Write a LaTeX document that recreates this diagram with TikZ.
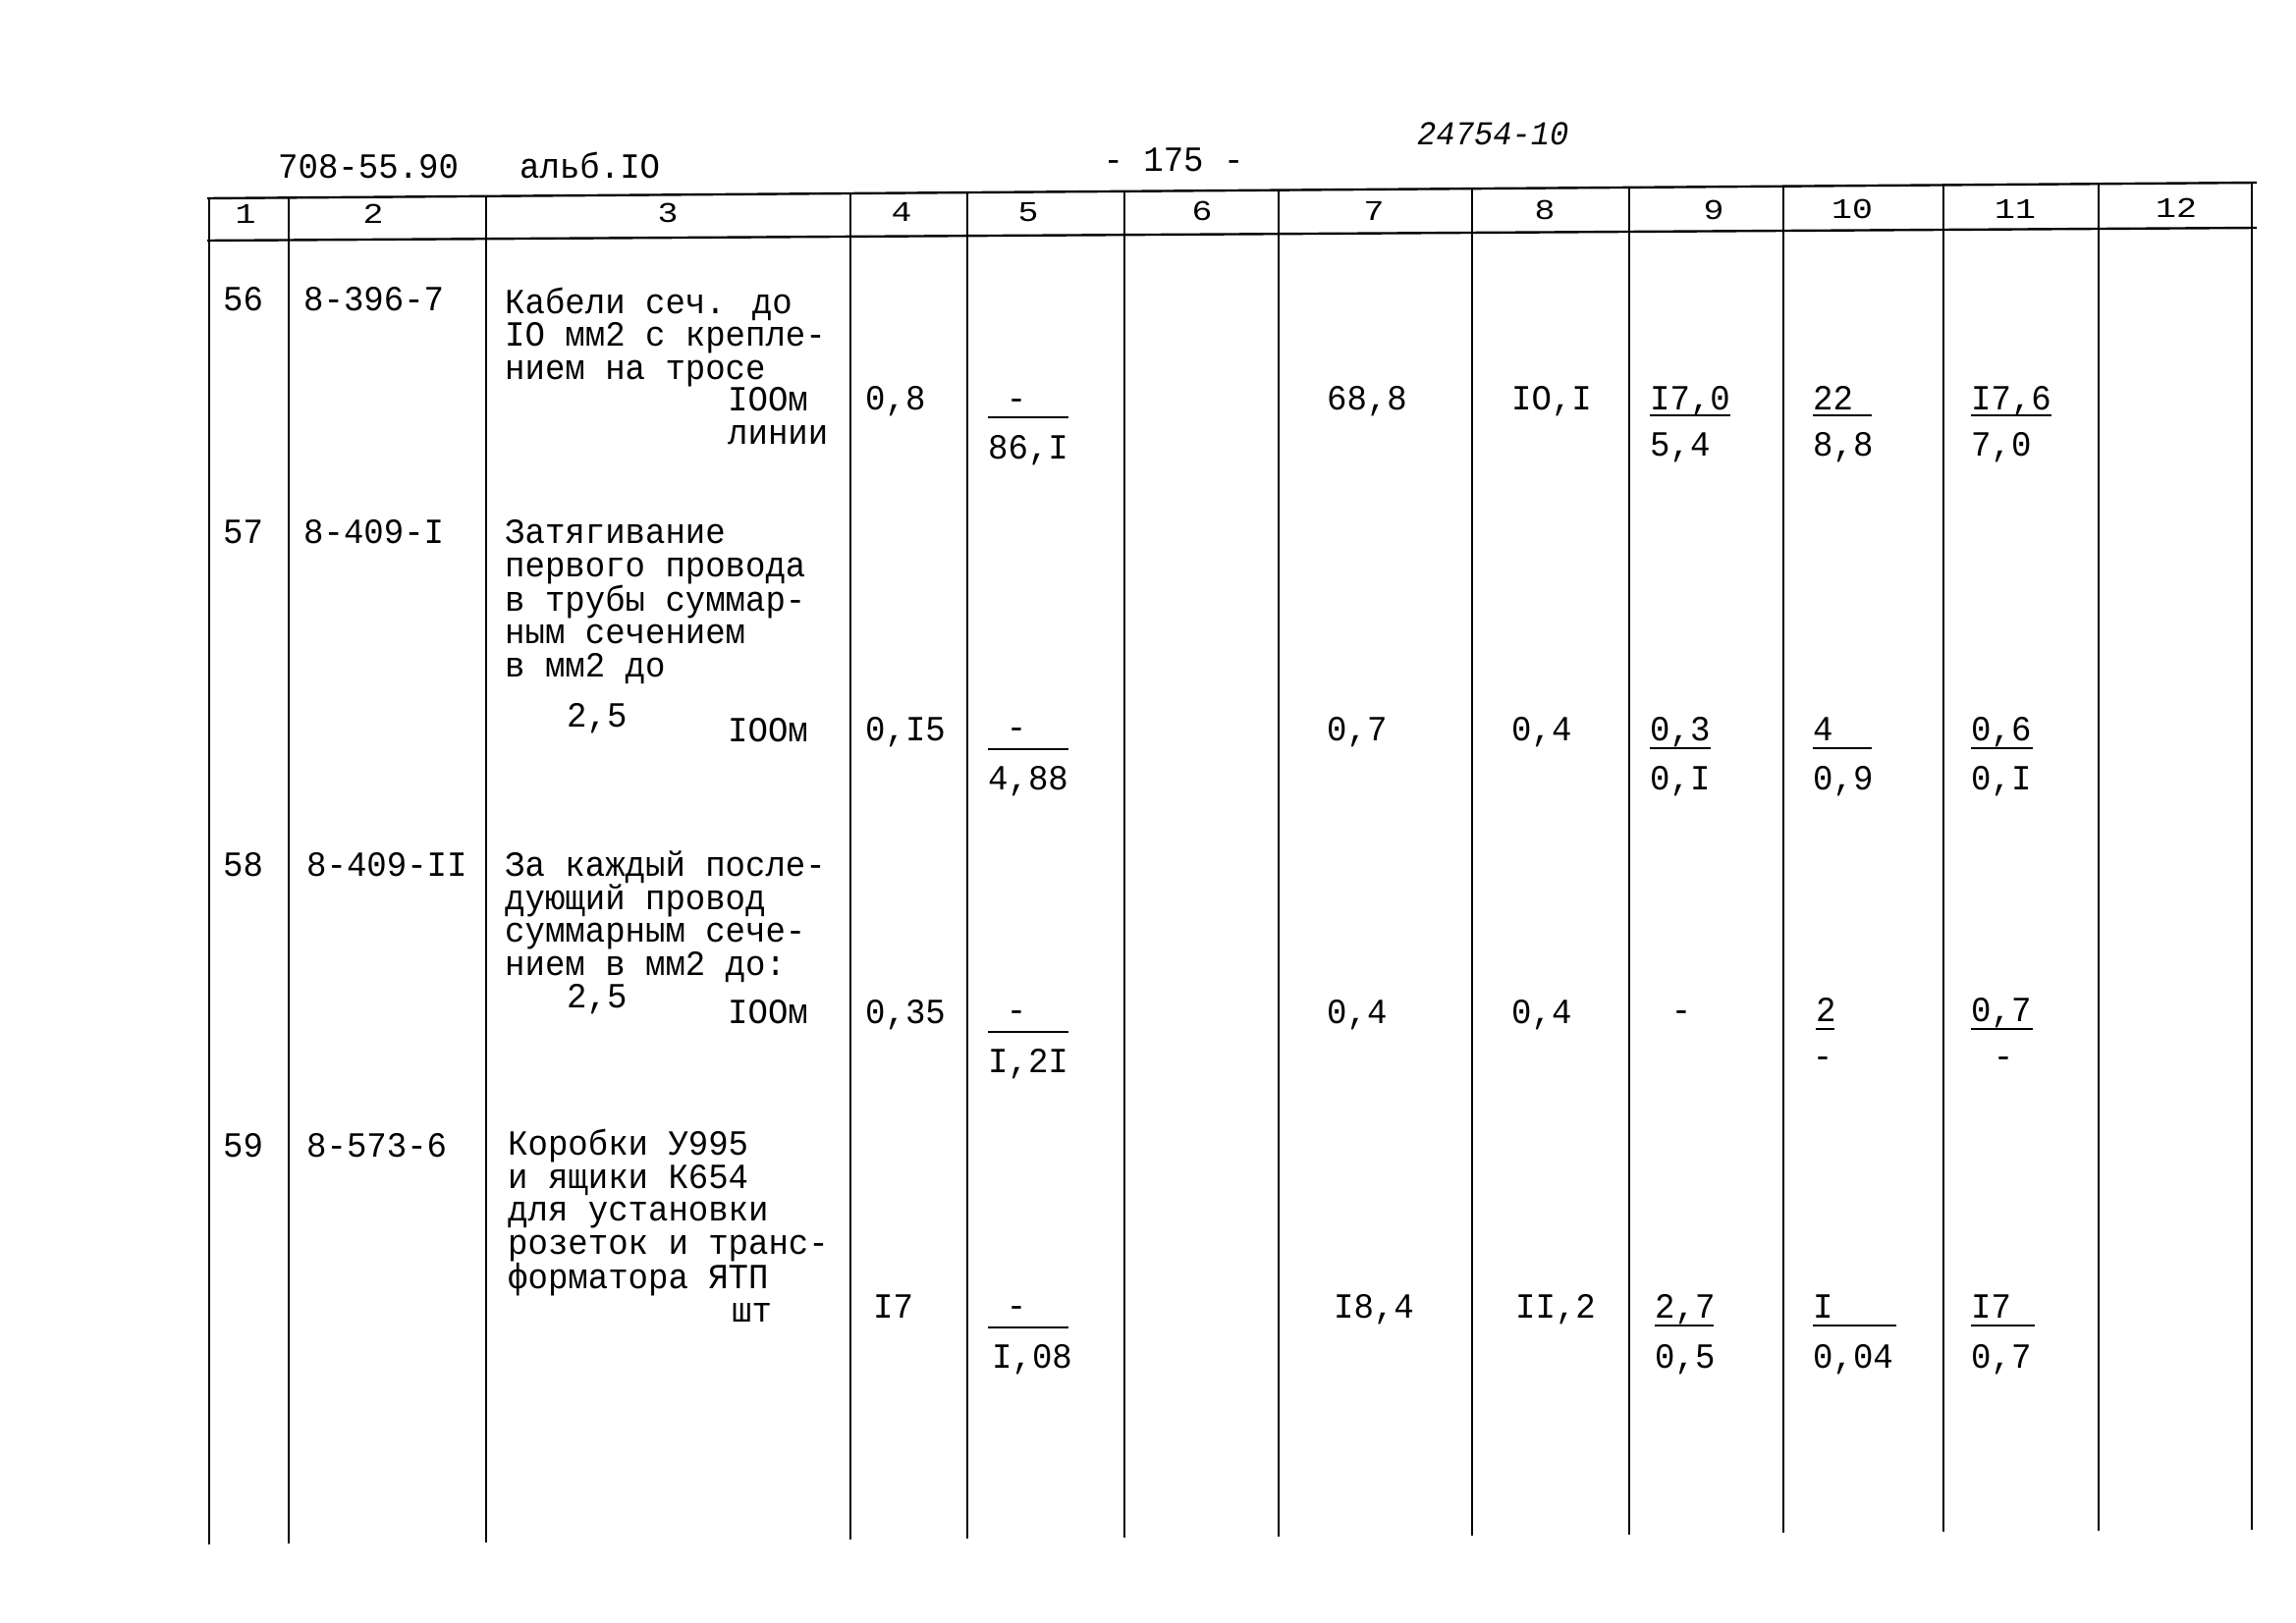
\documentclass[tikz,border=0pt]{standalone}
\usepackage{fontspec}
\newfontfamily\machfont[FakeStretch=0.945]{Liberation Mono}
\newfontfamily\headfont[FakeStretch=1.2]{Liberation Mono}
\usetikzlibrary{positioning}
\tikzset{
	rule/.style={line width=2.4pt, black},
	%
	frac/.style={line width=2pt, black},
	%
	txt/.style={
		anchor=base west, inner sep=0pt,
		font=\machfont\fontsize{36}{33.5}\selectfont
	},
	%
	desc/.style={txt, align=left},
	%
	mid/.style={txt, anchor=base},
	%
	hdr/.style={
		anchor=base, inner sep=0pt,
		font=\headfont\fontsize{29}{29}\selectfont
	}
}

\begin{document}
\begin{tikzpicture}[x=1pt,y=-1pt]
\useasboundingbox (0,0) rectangle (2338,1653);

%title line
\node (doc) [txt] at (283,182) {708-55.90};
\node (alb) [txt] at (529,182) {альб.IO};
\node (page) [mid] at (1195,175) {- 175 -};
\node (inv) [txt, font=\machfont\itshape\fontsize{34}{34}\selectfont] at (1443,148) {24754-10};

%frame
\draw[rule] (211,202) -- (2298,186);
\draw[rule] (211,245) -- (2298,232);
\draw[rule] (213,202) -- (213,1573);
\draw[rule] (294,201) -- (294,1572);
\draw[rule] (495,200) -- (495,1571);
\draw[rule] (866,197) -- (866,1568);
\draw[rule] (985,196) -- (985,1567);
\draw[rule] (1145,195) -- (1145,1566);
\draw[rule] (1302,194) -- (1302,1565);
\draw[rule] (1499,192) -- (1499,1564);
\draw[rule] (1659,191) -- (1659,1563);
\draw[rule] (1816,190) -- (1816,1561);
\draw[rule] (1979,189) -- (1979,1560);
\draw[rule] (2137,187) -- (2137,1559);
\draw[rule] (2293,186) -- (2293,1558);

%column numbers
\node (h1) [hdr] at (250,228) {1};
\node (h2) [hdr] at (380,228) {2};
\node (h3) [hdr] at (680,227) {3};
\node (h4) [hdr] at (918,226) {4};
\node (h5) [hdr] at (1047,226) {5};
\node (h6) [hdr] at (1224,225) {6};
\node (h7) [hdr] at (1399,225) {7};
\node (h8) [hdr] at (1573,224) {8};
\node (h9) [hdr] at (1745,224) {9};
\node (h10) [hdr] at (1886,223) {10};
\node (h11) [hdr] at (2052,223) {11};
\node (h12) [hdr] at (2216,222) {12};

%row 56 (multi-line nodes sit on their last line)
\node (n56) [txt] at (227,317) {56};
\node (c56) [txt] at (309,317) {8-396-7};
\node (d56) [desc] at (514,386) {Кабели сеч. до\\IO мм2 с крепле-\\нием на тросе};
\node (u56) [desc] at (741,452) {IOOм\\линии};
\node (q56) [txt] at (881,417) {0,8};
\node (a56) [mid] at (1035,417) {-};
\draw[frac] (1006,425) -- (1088,425);
\node (b56) [txt] at (1006,467) {86,I};
\node (g56) [txt] at (1351,417) {68,8};
\node (h56) [txt] at (1539,417) {IO,I};
\node (k56) [txt] at (1680,417) {I7,0};
\draw[frac] (1680,423) -- (1762,423);
\node (l56) [txt] at (1680,464) {5,4};
\node (m56) [txt] at (1846,417) {22};
\draw[frac] (1846,423) -- (1906,423);
\node (o56) [txt] at (1846,464) {8,8};
\node (p56) [txt] at (2007,417) {I7,6};
\draw[frac] (2007,423) -- (2089,423);
\node (r56) [txt] at (2007,464) {7,0};

%row 57
\node (n57) [txt] at (227,553) {57};
\node (c57) [txt] at (309,553) {8-409-I};
\node (d57) [desc] at (514,689) {Затягивание\\первого провода\\в трубы суммар-\\ным сечением\\в мм2 до};
\node (s57) [txt] at (577,740) {2,5};
\node (u57) [txt] at (741,755) {IOOм};
\node (q57) [txt] at (881,754) {0,I5};
\node (a57) [mid] at (1035,752) {-};
\draw[frac] (1006,763) -- (1088,763);
\node (b57) [txt] at (1006,804) {4,88};
\node (g57) [txt] at (1351,754) {0,7};
\node (h57) [txt] at (1539,754) {0,4};
\node (k57) [txt] at (1680,754) {0,3};
\draw[frac] (1680,762) -- (1742,762);
\node (l57) [txt] at (1680,804) {0,I};
\node (m57) [txt] at (1846,754) {4};
\draw[frac] (1846,762) -- (1906,762);
\node (o57) [txt] at (1846,804) {0,9};
\node (p57) [txt] at (2007,754) {0,6};
\draw[frac] (2007,762) -- (2070,762);
\node (r57) [txt] at (2007,804) {0,I};

%row 58
\node (n58) [txt] at (227,892) {58};
\node (c58) [txt] at (312,892) {8-409-II};
\node (d58) [desc] at (514,993) {За каждый после-\\дующий провод\\суммарным сече-\\нием в мм2 до:};
\node (s58) [txt] at (577,1026) {2,5};
\node (u58) [txt] at (741,1042) {IOOм};
\node (q58) [txt] at (881,1042) {0,35};
\node (a58) [mid] at (1035,1040) {-};
\draw[frac] (1006,1051) -- (1088,1051);
\node (b58) [txt] at (1006,1092) {I,2I};
\node (g58) [txt] at (1351,1042) {0,4};
\node (h58) [txt] at (1539,1042) {0,4};
\node (k58) [mid] at (1712,1040) {-};
\node (m58) [txt] at (1849,1040) {2};
\draw[frac] (1849,1048) -- (1868,1048);
\node (o58) [mid] at (1856,1087) {-};
\node (p58) [txt] at (2007,1040) {0,7};
\draw[frac] (2007,1048) -- (2070,1048);
\node (r58) [mid] at (2040,1087) {-};

%row 59
\node (n59) [txt] at (227,1178) {59};
\node (c59) [txt] at (312,1178) {8-573-6};
\node (d59) [desc] at (517,1312) {Коробки У995\\и ящики К654\\для установки\\розеток и транс-\\форматора ЯТП};
\node (u59) [txt] at (745,1346) {шт};
\node (q59) [txt] at (889,1342) {I7};
\node (a59) [mid] at (1035,1341) {-};
\draw[frac] (1006,1352) -- (1088,1352);
\node (b59) [txt] at (1010,1393) {I,08};
\node (g59) [txt] at (1358,1342) {I8,4};
\node (h59) [txt] at (1543,1342) {II,2};
\node (k59) [txt] at (1685,1342) {2,7};
\draw[frac] (1685,1350) -- (1745,1350);
\node (l59) [txt] at (1685,1393) {0,5};
\node (m59) [txt] at (1846,1342) {I};
\draw[frac] (1846,1350) -- (1931,1350);
\node (o59) [txt] at (1846,1393) {0,04};
\node (p59) [txt] at (2007,1342) {I7};
\draw[frac] (2007,1350) -- (2072,1350);
\node (r59) [txt] at (2007,1393) {0,7};
\end{tikzpicture}
\end{document}
